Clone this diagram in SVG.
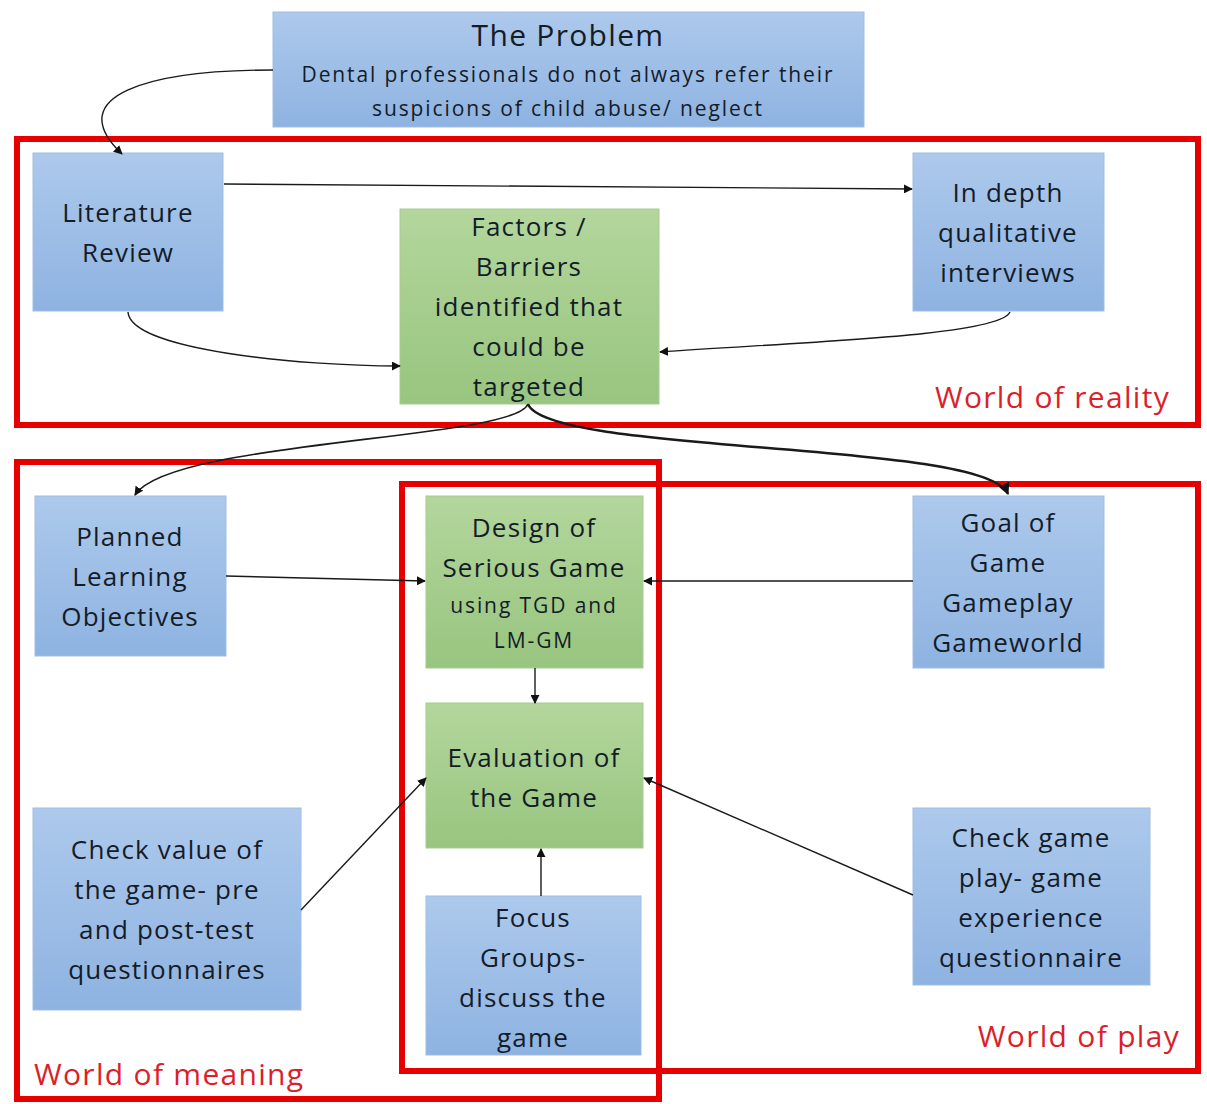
<svg xmlns="http://www.w3.org/2000/svg" width="1207" height="1104" viewBox="0 0 1207 1104">
  <defs>
    <linearGradient id="blueFill" x1="0" y1="0" x2="0" y2="1">
      <stop offset="0" stop-color="#adc9ec"/>
      <stop offset="1" stop-color="#8eb3e1"/>
    </linearGradient>
    <linearGradient id="greenFill" x1="0" y1="0" x2="0" y2="1">
      <stop offset="0" stop-color="#b3d69c"/>
      <stop offset="1" stop-color="#98c57f"/>
    </linearGradient>
    <marker id="arrow" viewBox="0 0 10 10" refX="9" refY="5" markerWidth="9" markerHeight="9" markerUnits="userSpaceOnUse" orient="auto">
      <path d="M0,0 L10,5 L0,10 z" fill="#111"/>
    </marker>
    <marker id="arrowBig" viewBox="0 0 10 10" refX="9" refY="5" markerWidth="12" markerHeight="12" markerUnits="userSpaceOnUse" orient="auto">
      <path d="M0,0 L10,5 L0,10 z" fill="#111"/>
    </marker>
  </defs>
  <style>
    .blue { fill: url(#blueFill); stroke: #9fbde3; stroke-width: 1; }
    .green { fill: url(#greenFill); stroke: #a6cc8e; stroke-width: 1; }
    .t { font-family: "Open Sans", Lato, "Liberation Sans", sans-serif; font-size: 26px; fill: #141c28; text-anchor: middle; letter-spacing: 1.2px; }
    .s { font-size: 21px; letter-spacing: 1.9px; }
    .title { font-size: 30px; letter-spacing: 1.3px; }
    .frame { fill: none; stroke: #e60000; stroke-width: 6; }
    .zone { font-family: "Open Sans", Lato, "Liberation Sans", sans-serif; font-size: 30px; fill: #dc1f2a; letter-spacing: 1.3px; }
    .conn { fill: none; stroke: #1a1a1a; stroke-width: 1.4; marker-end: url(#arrow); }
  </style>

  <rect width="1207" height="1104" fill="#ffffff"/>

  <!-- world frames -->
  <g id="frames">
    <rect class="frame" x="17" y="139" width="1181" height="286"/>
    <rect class="frame" x="17" y="462" width="642" height="637"/>
    <rect class="frame" x="402" y="484" width="796" height="587"/>
    <text class="zone" x="1170" y="408" text-anchor="end">World of reality</text>
    <text class="zone" x="34" y="1085">World of meaning</text>
    <text class="zone" x="1180" y="1047" text-anchor="end">World of play</text>
  </g>

  <g id="problem">
    <rect class="blue" x="273" y="12" width="591" height="115"/>
    <text class="t title" x="568" y="46">The Problem</text>
    <text class="t s" x="568" y="82">Dental professionals do not always refer their</text>
    <text class="t s" x="568" y="116">suspicions of child abuse/ neglect</text>
  </g>

  <g id="literature-review">
    <rect class="blue" x="33" y="153" width="190" height="158"/>
    <text class="t" x="128" y="222">Literature</text>
    <text class="t" x="128" y="262">Review</text>
  </g>

  <g id="interviews">
    <rect class="blue" x="913" y="153" width="191" height="158"/>
    <text class="t" x="1008" y="202">In depth</text>
    <text class="t" x="1008" y="242">qualitative</text>
    <text class="t" x="1008" y="282">interviews</text>
  </g>

  <g id="factors">
    <rect class="green" x="400" y="209" width="259" height="195"/>
    <text class="t" x="529" y="236">Factors /</text>
    <text class="t" x="529" y="276">Barriers</text>
    <text class="t" x="529" y="316">identified that</text>
    <text class="t" x="529" y="356">could be</text>
    <text class="t" x="529" y="396">targeted</text>
  </g>

  <g id="objectives">
    <rect class="blue" x="35" y="496" width="191" height="160"/>
    <text class="t" x="130" y="546">Planned</text>
    <text class="t" x="130" y="586">Learning</text>
    <text class="t" x="130" y="626">Objectives</text>
  </g>

  <g id="design">
    <rect class="green" x="426" y="496" width="217" height="172"/>
    <text class="t" x="534" y="537">Design of</text>
    <text class="t" x="534" y="577">Serious Game</text>
    <text class="t s" x="534" y="613">using TGD and</text>
    <text class="t s" x="534" y="648">LM-GM</text>
  </g>

  <g id="goal">
    <rect class="blue" x="913" y="496" width="191" height="172"/>
    <text class="t" x="1008" y="532">Goal of</text>
    <text class="t" x="1008" y="572">Game</text>
    <text class="t" x="1008" y="612">Gameplay</text>
    <text class="t" x="1008" y="652">Gameworld</text>
  </g>

  <g id="evaluation">
    <rect class="green" x="426" y="703" width="217" height="145"/>
    <text class="t" x="534" y="767">Evaluation of</text>
    <text class="t" x="534" y="807">the Game</text>
  </g>

  <g id="check-value">
    <rect class="blue" x="33" y="808" width="268" height="202"/>
    <text class="t" x="167" y="859">Check value of</text>
    <text class="t" x="167" y="899">the game- pre</text>
    <text class="t" x="167" y="939">and post-test</text>
    <text class="t" x="167" y="979">questionnaires</text>
  </g>

  <g id="focus-groups">
    <rect class="blue" x="426" y="896" width="215" height="159"/>
    <text class="t" x="533" y="927">Focus</text>
    <text class="t" x="533" y="967">Groups-</text>
    <text class="t" x="533" y="1007">discuss the</text>
    <text class="t" x="533" y="1047">game</text>
  </g>

  <g id="check-game">
    <rect class="blue" x="913" y="808" width="237" height="177"/>
    <text class="t" x="1031" y="847">Check game</text>
    <text class="t" x="1031" y="887">play- game</text>
    <text class="t" x="1031" y="927">experience</text>
    <text class="t" x="1031" y="967">questionnaire</text>
  </g>

  <g id="connectors">
    <path class="conn" d="M273,70 C150,70 60,95 122,154"/>
    <path class="conn" d="M224,184 L912,189"/>
    <path class="conn" d="M128,312 C130,350 300,366 400,366"/>
    <path class="conn" d="M1010,312 C1000,336 800,342 660,352"/>
    <path class="conn" d="M528,404 C515,440 170,440 135,495" style="stroke-width:1.6"/>
    <path class="conn" d="M528,404 C548,455 985,440 1008,494" style="stroke-width:2.4; marker-end:url(#arrowBig)"/>
    <path class="conn" d="M226,576 L425,581"/>
    <path class="conn" d="M913,581 L644,581"/>
    <path class="conn" d="M535,668 L535,703"/>
    <path class="conn" d="M541,896 L541,849"/>
    <path class="conn" d="M301,910 L426,778"/>
    <path class="conn" d="M913,895 L644,778"/>
  </g>
</svg>
